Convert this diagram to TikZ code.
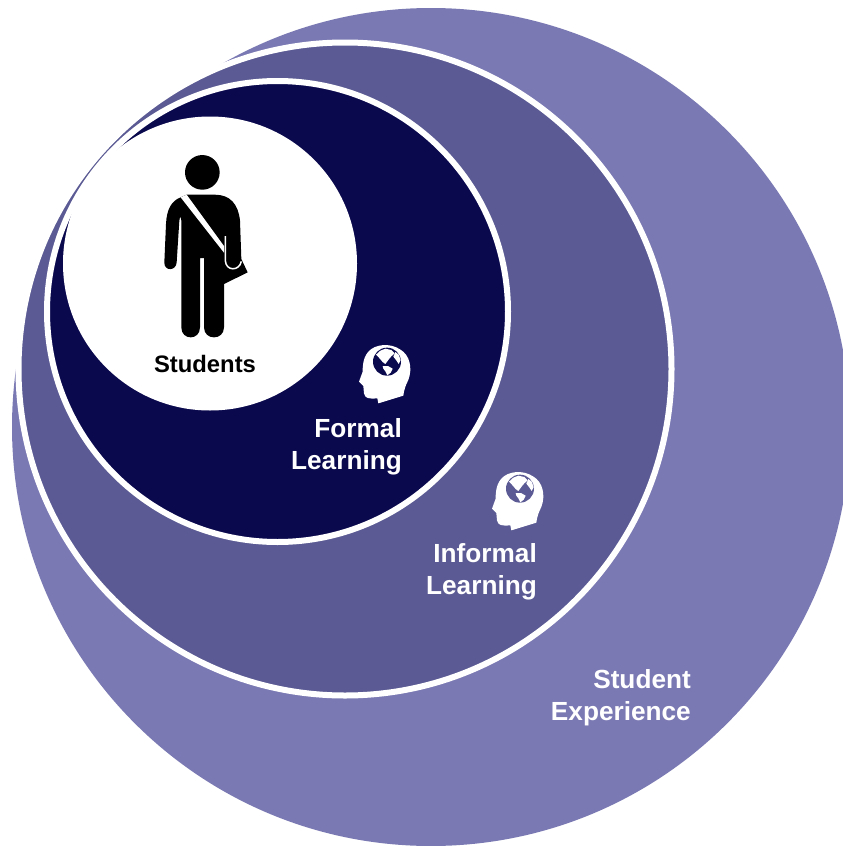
\documentclass[tikz,border=0pt]{standalone}
\usepackage{fontspec}
\setmainfont{Liberation Sans}
\definecolor{outerc}{HTML}{7B79B3}
\definecolor{midc}{HTML}{5B5A94}
\definecolor{innerc}{HTML}{0B094E}
\tikzset{
  ring/.style={draw=white,line width=6pt},
  lab/.style={text=white,font=\bfseries\fontsize{26.2}{32}\selectfont,align=right,anchor=east,inner sep=0pt},
}
\newcommand{\headicon}[3]{%
\begin{scope}[shift={(#1,#2)},scale=1/3]
 \fill[white] (115,220) -- (190,197) .. controls (192,180) and (197,165) .. (205,150)
   .. controls (218,115) and (210,75) .. (180,58)
   .. controls (150,38) and (105,42) .. (85,65)
   .. controls (68,85) and (68,110) .. (68,125)
   -- (57,155) -- (70,168) -- (72,190) .. controls (75,205) and (85,207) .. (112,205) -- cycle;
 \fill[#3] (141,95) circle (42);
 \fill[white] (121,62) -- (136,56) -- (154,60) -- (164,70) -- (154,79) -- (148,86) -- (142,94) -- (136,102) -- (128,96) -- (116,82) -- (108,74) -- cycle;
 \fill[white] (128,108) -- (144,108) -- (158,116) -- (152,128) -- (142,136) -- (136,124) -- (130,116) -- cycle;
 \fill[white] (166,66) -- (176,74) -- (182,90) -- (176,102) -- (168,90) -- (160,80) -- cycle;
\end{scope}}
\begin{document}
\begin{tikzpicture}[x=1pt,y=-1pt]
\useasboundingbox (0,0) rectangle (843,846);
\begin{scope}
\clip (0,0) rectangle (843,846);
\fill[outerc] (431,427) circle (419);
\end{scope}
\node[circle,minimum size=653pt,inner sep=0pt,fill=midc,ring] (mid) at (345,369) {};
\node[circle,minimum size=461pt,inner sep=0pt,fill=innerc,ring] (inner) at (277.5,311.5) {};
\node[circle,minimum size=294pt,inner sep=0pt,fill=white] (core) at (210,263.5) {};
% student figure
\begin{scope}[shift={(140,140.7)},scale=1/3]
 \fill[black] (187,95) circle (52);
 \fill[black] (140,162) -- (225,162) .. controls (270,162) and (295,190) .. (300,240)
   -- (304,355) -- (323,395) -- (252,430) -- (252,560)
   .. controls (252,600) and (192,600) .. (192,560) -- (192,352) -- (180,352) -- (180,560)
   .. controls (180,600) and (124,600) .. (124,560) -- (124,240)
   .. controls (122,225) and (120,225) .. (118,240)
   -- (110,365) .. controls (108,392) and (72,392) .. (73,365)
   -- (78,250) .. controls (80,205) and (95,180) .. (122,170) -- cycle;
 \fill[white] (122,170) -- (140,162) -- (252,316) -- (252,336) -- cycle;
 \draw[white,line width=1.5pt] (256,286) -- (256,360) .. controls (258,392) and (298,392) .. (304,362);
\end{scope}
\node[font=\bfseries\fontsize{23.8}{28}\selectfont,text=black,inner sep=0pt] (students) at (205,364) {Students};
\headicon{340}{330}{innerc}
\headicon{473}{457}{midc}
\node[lab] (formal) at (402,446.5) {Formal\\[0pt]Learning};
\node[lab] (informal) at (537,571.5) {Informal\\[0pt]Learning};
\node[lab] (exp) at (691,697.5) {Student\\[0pt]Experience};
\end{tikzpicture}
\end{document}
